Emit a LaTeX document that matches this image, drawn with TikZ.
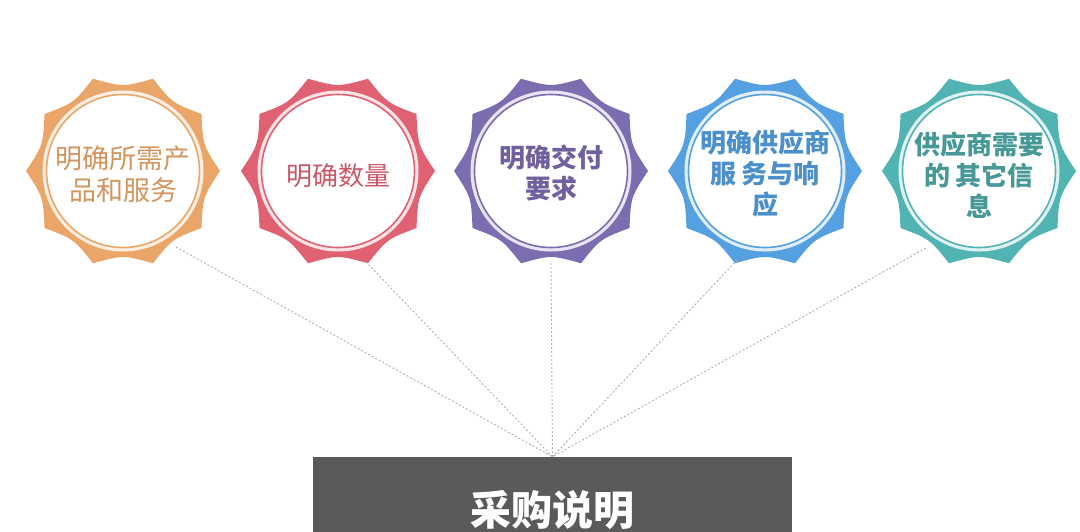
\documentclass[tikz,border=0pt]{standalone}
\usepackage{fontspec}
\newfontfamily\cjk{Noto Sans CJK SC}
\usetikzlibrary{positioning}

\definecolor{orangeb}{RGB}{234,166,104}
\definecolor{redb}{RGB}{224,98,114}
\definecolor{purpleb}{RGB}{124,108,176}
\definecolor{blueb}{RGB}{84,160,224}
\definecolor{tealb}{RGB}{82,180,178}
\definecolor{specgrey}{RGB}{90,90,90}
\definecolor{linkgrey}{RGB}{175,175,175}

% star badge with ring: centre, colour
\newcommand{\badge}[2]{%
  \fill[#2, shift={(#1)}] (0:97)
    \foreach \a in {36,72,...,360} { .. controls ({\a-18}:84) .. (\a:97) } -- cycle;
  \fill[#2!18!white] (#1) circle (80.5);
  \draw[#2, line width=1.6pt, fill=white] (#1) circle (76.5);
}

\begin{document}
\begin{tikzpicture}[x=1pt, y=-1pt, font=\cjk,
    btext/.style={circle, minimum size=180pt, inner sep=0pt, align=center,
                  font=\cjk\fontsize{26}{31}\selectfont},
    bold/.style={font=\cjk\bfseries\fontsize{26}{31}\selectfont},
    link/.style={draw=linkgrey, line width=0.9pt, dash pattern=on 2pt off 2pt},
    specbox/.style={fill=specgrey, text=white, minimum width=479pt, minimum height=106pt,
                    inner sep=0pt, font=\cjk\bfseries\fontsize{41}{41}\selectfont}]
  \useasboundingbox (0,0) rectangle (1080,531);

  \badge{123,171}{orangeb}
  \badge{338,171}{redb}
  \badge{551,171}{purpleb}
  \badge{765,171}{blueb}
  \badge{979,171}{tealb}

  \node (need) [btext, text=orangeb!90!black, font=\cjk\fontsize{27}{32}\selectfont] at (123,174) {明确所需产\\品和服务};
  \node (qty)  [btext, text=redb!90!black] at (338,176) {明确数量};
  \node (dlv)  [btext, bold, text=purpleb!90!black] at (551,173) {明确交付\\要求};
  \node (svc)  [btext, bold, text=blueb!90!black] at (765,174) {明确供应商\\服 务与响\\应};
  \node (info) [btext, bold, text=tealb!85!black] at (979,175) {供应商需要\\的 其它信\\息};

  \node (spec) [specbox] at (552.5,510) {采购说明};

  \draw [link] (need.-54)  -- (spec.north);
  \draw [link] (qty.-72)   -- (spec.north);
  \draw [link] (dlv.-90)   -- (spec.north);
  \draw [link] (svc.-108)  -- (spec.north);
  \draw [link] (info.-126) -- (spec.north);
\end{tikzpicture}
\end{document}
